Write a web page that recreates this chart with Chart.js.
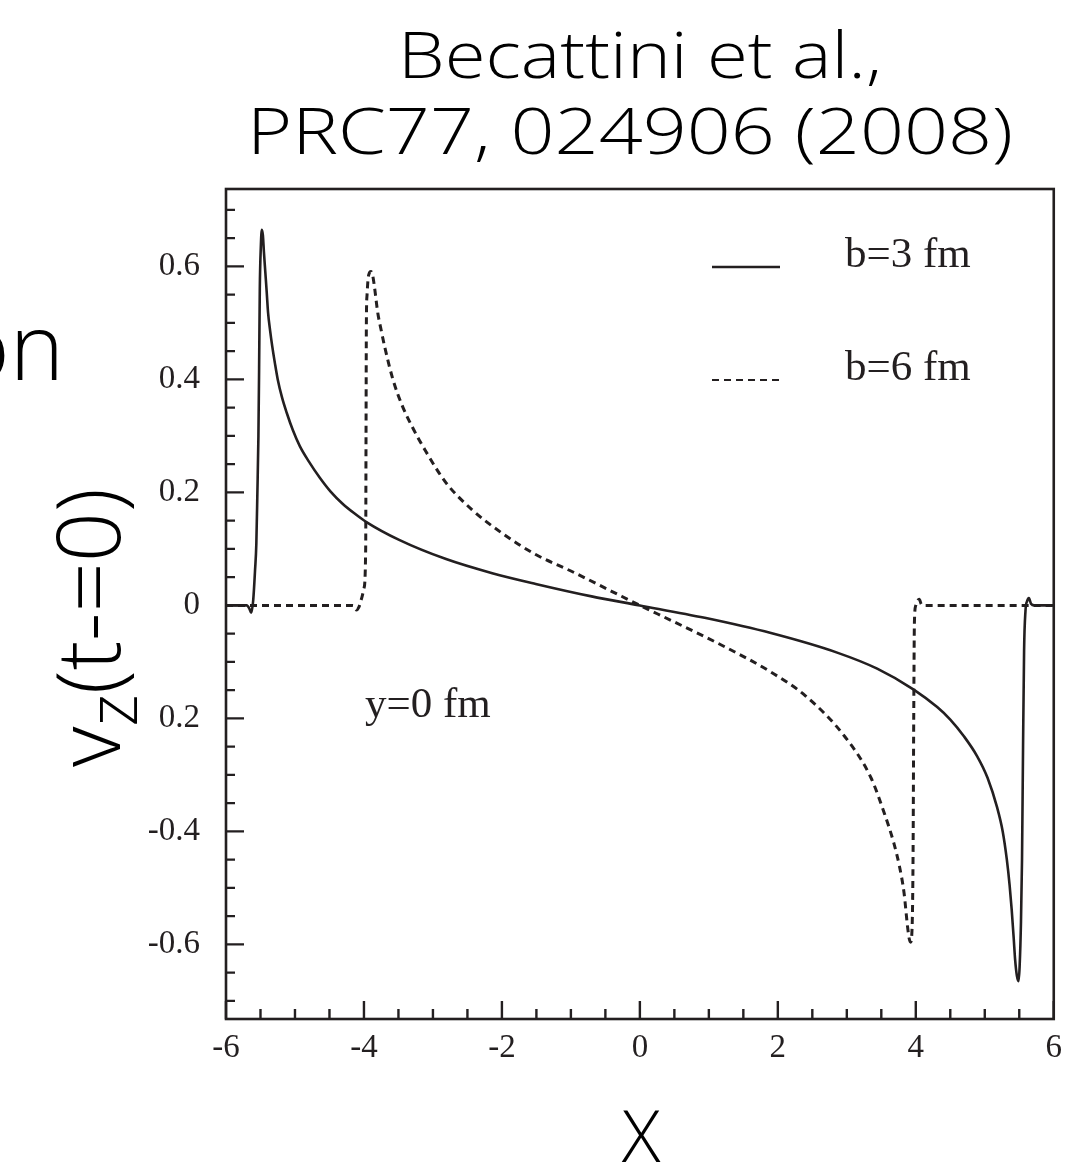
<!DOCTYPE html>
<html>
<head>
<meta charset="utf-8">
<script src="https://cdn.jsdelivr.net/npm/chart.js@4.4.1/dist/chart.umd.min.js"></script>
<style>
  html, body { margin: 0; padding: 0; background: #ffffff; }
  #wrap { position: relative; width: 1072px; height: 1172px; }
  canvas { display: block; }
</style>
</head>
<body>
<div id="wrap"><canvas id="c" width="1072" height="1172"></canvas></div>
<script>
// ---------------- data ----------------
const seriesNames = ['b=3 fm', 'b=6 fm'];

const xB3 = [-6, -5.70, -5.66, -5.635, -5.605, -5.58, -5.56, -5.545, -5.53, -5.52, -5.51, -5.495, -5.48, -5.465, -5.45, -5.43, -5.41, -5.39, -5.36, -5.33, -5.29, -5.25, -5.19, -5.12, -5.03, -4.93, -4.80, -4.64, -4.48, -4.31, -4.14, -3.97, -3.49, -2.81, -2.14, -1.51, -0.70, 0, 0.94, 1.90, 2.87, 3.44, 3.97, 4.31, 4.50, 4.70, 4.89, 5.04, 5.18, 5.26, 5.32, 5.36, 5.39, 5.42, 5.44, 5.465, 5.49, 5.505, 5.525, 5.54, 5.555, 5.57, 5.59, 5.615, 5.64, 5.67, 5.72, 6];
const yB3 = [0, 0, -0.006, -0.013, 0.010, 0.060, 0.110, 0.200, 0.300, 0.420, 0.560, 0.635, 0.665, 0.655, 0.625, 0.590, 0.555, 0.518, 0.486, 0.459, 0.428, 0.400, 0.369, 0.341, 0.310, 0.282, 0.255, 0.226, 0.201, 0.180, 0.163, 0.148, 0.116, 0.082, 0.057, 0.038, 0.016, 0, -0.022, -0.049, -0.084, -0.112, -0.149, -0.180, -0.202, -0.232, -0.267, -0.305, -0.358, -0.400, -0.450, -0.495, -0.538, -0.590, -0.627, -0.655, -0.665, -0.640, -0.560, -0.450, -0.250, -0.080, -0.010, 0.008, 0.013, 0.003, 0, 0];

const xB6 = [-6, -4.16, -4.11, -4.07, -4.04, -4.00, -3.975, -3.97, -3.965, -3.955, -3.94, -3.92, -3.90, -3.875, -3.85, -3.80, -3.75, -3.70, -3.58, -3.45, -3.30, -3.10, -2.81, -2.43, -2.00, -1.51, -0.985, -0.41, 0, 0.46, 1.18, 1.90, 2.40, 2.97, 3.35, 3.55, 3.68, 3.76, 3.83, 3.88, 3.905, 3.925, 3.945, 3.96, 3.97, 3.98, 4.00, 4.03, 4.05, 4.08, 4.12, 6];
const yB6 = [0, 0, -0.008, -0.002, 0.010, 0.030, 0.100, 0.300, 0.500, 0.550, 0.578, 0.589, 0.591, 0.585, 0.566, 0.518, 0.487, 0.458, 0.400, 0.355, 0.316, 0.272, 0.217, 0.169, 0.128, 0.090, 0.060, 0.025, 0, -0.027, -0.070, -0.118, -0.160, -0.232, -0.305, -0.370, -0.420, -0.460, -0.509, -0.568, -0.590, -0.596, -0.575, -0.450, -0.200, -0.030, 0, 0.009, 0.011, 0.002, 0, 0];

const xTickValues = [-6, -4, -2, 0, 2, 4, 6];
const xTickLabels = ['-6', '-4', '-2', '0', '2', '4', '6'];
const xMinorTicks = [-5.5, -5, -4.5, -3.5, -3, -2.5, -1.5, -1, -0.5, 0.5, 1, 1.5, 2.5, 3, 3.5, 4.5, 5, 5.5];

const yTickValues = [-0.6, -0.4, -0.2, 0, 0.2, 0.4, 0.6];
const yTickLabels = ['-0.6', '-0.4', '0.2', '0', '0.2', '0.4', '0.6'];
const yMinorTicks = [-0.7, -0.65, -0.55, -0.5, -0.45, -0.35, -0.3, -0.25, -0.15, -0.1, -0.05, 0.05, 0.1, 0.15, 0.25, 0.3, 0.35, 0.45, 0.5, 0.55, 0.65, 0.7];

const titleLines = ['Becattini et al.,', 'PRC77, 024906 (2008)'];
const xAxisTitle = 'X';
const yAxisTitleMain = 'v';
const yAxisTitleSub = 'z';
const yAxisTitleRest = '(t-=0)';
const cutText = 'on';
const noteText = 'y=0 fm';

// ---------------- styling ----------------
const INK = '#231f20';
const SANS = '"Open Sans", "Noto Sans", "DejaVu Sans", sans-serif';
const SERIF = '"Liberation Serif", "DejaVu Serif", serif';

function toPoints(xs, ys) { return xs.map((x, i) => ({ x: x, y: ys[i] })); }

// draw text at a given font size, stretched horizontally to a target width
function wideText(ctx, text, x, y, font, targetWidth) {
  ctx.save();
  ctx.font = font;
  ctx.textAlign = 'left';
  ctx.textBaseline = 'alphabetic';
  const m = ctx.measureText(text).width;
  ctx.translate(x, y);
  ctx.scale(targetWidth / m, 1);
  ctx.fillText(text, 0, 0);
  ctx.restore();
}

const decorPlugin = {
  id: 'decor',
  afterDraw(chart) {
    const ctx = chart.ctx;
    const a = chart.chartArea;
    const xs = chart.scales.x, ys = chart.scales.y;
    ctx.save();
    // frame
    ctx.strokeStyle = INK;
    ctx.lineWidth = 2.6;
    ctx.strokeRect(a.left, a.top, a.right - a.left, a.bottom - a.top);
    // ticks (inward)
    ctx.lineWidth = 2.4;
    ctx.beginPath();
    xTickValues.forEach(v => { const p = xs.getPixelForValue(v); ctx.moveTo(p, a.bottom); ctx.lineTo(p, a.bottom - 18); });
    xMinorTicks.forEach(v => { const p = xs.getPixelForValue(v); ctx.moveTo(p, a.bottom); ctx.lineTo(p, a.bottom - 10); });
    yTickValues.forEach(v => { const p = ys.getPixelForValue(v); ctx.moveTo(a.left, p); ctx.lineTo(a.left + 18, p); });
    yMinorTicks.forEach(v => { const p = ys.getPixelForValue(v); ctx.moveTo(a.left, p); ctx.lineTo(a.left + 9, p); });
    ctx.stroke();

    // legend
    const legY = [267, 380];
    chart.data.datasets.forEach((d, i) => {
      ctx.beginPath();
      ctx.strokeStyle = INK;
      ctx.lineWidth = i === 0 ? 2.6 : 2.0;
      ctx.setLineDash(i === 0 ? [] : [7, 5]);
      ctx.moveTo(712, legY[i]);
      ctx.lineTo(780, legY[i]);
      ctx.stroke();
      ctx.setLineDash([]);
      ctx.fillStyle = INK;
      ctx.font = '43px ' + SERIF;
      ctx.textAlign = 'left';
      ctx.textBaseline = 'alphabetic';
      ctx.fillText(seriesNames[i], 845, legY[i]);
    });

    // note inside plot
    ctx.font = '43px ' + SERIF;
    ctx.fillText(noteText, 365, 717);

    // title lines (wide sans)
    ctx.fillStyle = '#000';
    wideText(ctx, titleLines[0], 398, 78, '360 64px ' + SANS, 484);
    wideText(ctx, titleLines[1], 247, 154, '360 64px ' + SANS, 766);

    // cut-off text at left edge
    ctx.font = '360 92px ' + SANS;
    ctx.textAlign = 'right';
    ctx.textBaseline = 'alphabetic';
    ctx.fillText(cutText, 64, 380);

    // x axis title
    ctx.textAlign = 'center';
    ctx.font = '360 72px ' + SANS;
    ctx.fillText(xAxisTitle, 641, 1162);

    // y axis title (rotated)
    ctx.save();
    ctx.translate(120, 767);
    ctx.rotate(-Math.PI / 2);
    ctx.textAlign = 'left';
    ctx.font = '360 88px ' + SANS;
    ctx.fillText(yAxisTitleMain, 0, 0);
    let w = ctx.measureText(yAxisTitleMain).width;
    ctx.font = '360 70px ' + SANS;
    ctx.fillText(yAxisTitleSub, w, 17);
    w += ctx.measureText(yAxisTitleSub).width;
    ctx.font = '360 88px ' + SANS;
    ctx.fillText(yAxisTitleRest, w, 0);
    ctx.restore();

    ctx.restore();
  }
};

const chart = new Chart(document.getElementById('c'), {
  type: 'scatter',
  data: {
    datasets: [
      { label: seriesNames[0], data: toPoints(xB3, yB3), showLine: true, borderColor: INK, borderWidth: 2.6,
        pointRadius: 0, cubicInterpolationMode: 'monotone', fill: false },
      { label: seriesNames[1], data: toPoints(xB6, yB6), showLine: true, borderColor: INK, borderWidth: 3,
        borderDash: [7, 5], pointRadius: 0, cubicInterpolationMode: 'monotone', fill: false }
    ]
  },
  options: {
    responsive: false,
    animation: false,
    devicePixelRatio: 1,
    layout: { padding: { left: 0, right: 15, top: 189, bottom: 0 } },
    plugins: { legend: { display: false }, tooltip: { enabled: false } },
    scales: {
      x: {
        type: 'linear', min: -6, max: 6,
        grid: { display: false, drawTicks: false },
        border: { display: false },
        afterBuildTicks: (s) => { s.ticks = xTickValues.map(v => ({ value: v })); },
        afterFit: (s) => { s.height = 153; },
        ticks: {
          autoSkip: false, maxRotation: 0, padding: 10, color: INK,
          font: { family: SERIF, size: 33 },
          callback: (v) => { const i = xTickValues.indexOf(v); return i >= 0 ? xTickLabels[i] : ''; }
        }
      },
      y: {
        type: 'linear', min: -0.732, max: 0.737,
        grid: { display: false, drawTicks: false },
        border: { display: false },
        afterBuildTicks: (s) => { s.ticks = yTickValues.map(v => ({ value: v })); },
        afterFit: (s) => { s.width = 226; },
        ticks: {
          autoSkip: false, padding: 26, color: INK,
          font: { family: SERIF, size: 33 },
          callback: (v) => { const i = yTickValues.findIndex(t => Math.abs(t - v) < 1e-9); return i >= 0 ? yTickLabels[i] : ''; }
        }
      }
    }
  },
  plugins: [decorPlugin]
});
</script>
</body>
</html>
